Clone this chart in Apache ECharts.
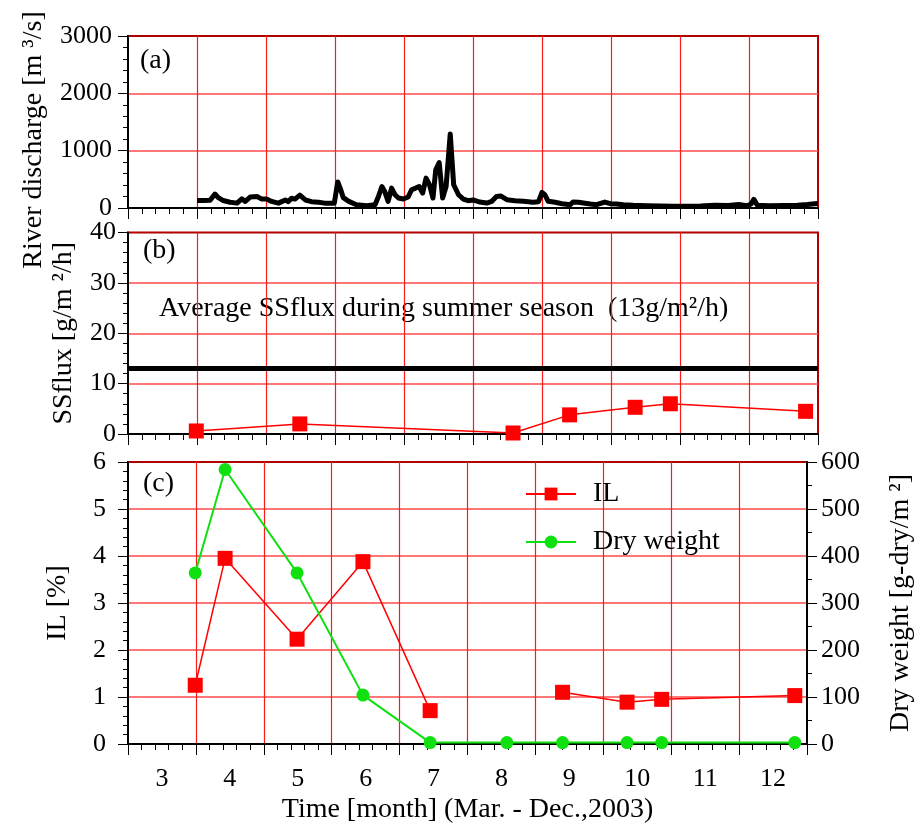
<!DOCTYPE html>
<html>
<head>
<meta charset="utf-8">
<script src="https://cdn.jsdelivr.net/npm/echarts@6/dist/echarts.min.js"></script>
<style>
  html, body { margin: 0; padding: 0; background: #fff; }
  #main { width: 923px; height: 825px; }
</style>
</head>
<body>
<div id="main"></div>
<script>
// month axis: 3.0 = start of March ... 13.0 = end of December
var monthTicks = [3, 4, 5, 6, 7, 8, 9, 10, 11, 12];

// (a) river discharge [m3/s]
var dischargeMonth = [4.00, 4.09, 4.19, 4.26, 4.31, 4.38, 4.48, 4.58, 4.65, 4.70, 4.77, 4.87, 4.94, 5.01, 5.08, 5.18,
  5.28, 5.32, 5.37, 5.42, 5.49, 5.57, 5.66, 5.76, 5.85, 5.95, 5.99, 6.04, 6.08, 6.12, 6.20, 6.31, 6.46, 6.58,
  6.63, 6.68, 6.72, 6.77, 6.82, 6.87, 6.92, 6.99, 7.06, 7.11, 7.17, 7.22, 7.27, 7.32, 7.37, 7.42, 7.46, 7.51,
  7.56, 7.61, 7.67, 7.72, 7.79, 7.86, 7.93, 8.00, 8.10, 8.20, 8.27, 8.34, 8.40, 8.49, 8.61, 8.73, 8.87, 8.95,
  9.00, 9.04, 9.09, 9.19, 9.29, 9.41, 9.45, 9.53, 9.60, 9.70, 9.79, 9.91, 9.99, 10.08, 10.18, 10.32, 10.52,
  10.71, 10.90, 11.10, 11.30, 11.50, 11.70, 11.85, 11.97, 12.03, 12.07, 12.12, 12.30, 12.50, 12.70, 12.85,
  12.95, 13.00];
var dischargeValue = [132, 130, 135, 243, 180, 130, 100, 85, 160, 115, 190, 200, 155, 155, 115, 85,
  140, 110, 170, 155, 225, 140, 110, 100, 85, 85, 85, 455, 330, 180, 115, 57, 40, 57,
  202, 375, 289, 115, 347, 231, 174, 156, 191, 318, 347, 375, 260, 521, 405, 174, 666, 793,
  174, 375, 1291, 405, 231, 156, 127, 140, 104, 87, 115, 202, 210, 145, 128, 116, 99, 110,
  272, 232, 116, 99, 75, 58, 104, 99, 87, 70, 58, 104, 75, 70, 58, 46, 40,
  35, 30, 30, 35, 50, 45, 60, 40, 70, 150, 50, 40, 45, 50, 60,
  75, 80];

// (b) SS flux [g/m2/h]
var fluxMonth = [3.99, 5.49, 8.58, 9.40, 10.35, 10.86, 12.82];
var fluxValue = [0.6, 2.0, 0.2, 3.8, 5.3, 6.0, 4.5];
var summerFluxAvg = 13;

// (c) IL [%] and dry weight [g-dry/m2]
var sampleMonth = [3.99, 4.43, 5.49, 6.46, 7.45, 8.58, 9.40, 10.35, 10.86, 12.82];
var ilValue = [1.25, 3.95, 2.23, 3.88, 0.71, null, 1.10, 0.89, 0.95, 1.03];
var dryWeight = [364, 584, 364, 104, 3, 3, 3, 3, 3, 3];

var FONT = 'Liberation Serif';
var RED = '#ff0000';
var GREEN = '#10e010';

function pairs(xs, ys) {
  return xs.map(function (x, i) { return [x, ys[i]]; });
}

function monthAxis(idx, showLabel) {
  return {
    type: 'value', gridIndex: idx, min: 3, max: 13, interval: 1,
    name: showLabel ? 'Time [month] (Mar. - Dec.,2003)' : '',
    nameLocation: 'middle', nameGap: 52,
    nameTextStyle: {fontFamily: FONT, fontSize: 28, color: '#000'},
    axisLine: {onZero: false, lineStyle: {color: '#000', width: 2}},
    axisTick: {length: 11, lineStyle: {color: '#000', width: 1}},
    minorTick: {show: true, splitNumber: 5, length: 6, lineStyle: {color: '#000', width: 1}},
    splitLine: {show: true, showMinLine: false, showMaxLine: false,
      lineStyle: {color: '#ff1a1a', width: 1.2}},
    axisLabel: showLabel ? {
      customValues: monthTicks.map(function (m) { return m + 0.5; }),
      formatter: function (v) { return String(Math.floor(v)); },
      margin: 22, fontFamily: FONT, fontSize: 26, color: '#000'
    } : {show: false}
  };
}

function valueAxis(idx, max, step, minorSplit, name, gap, margin, side, namePad) {
  return {
    type: 'value', gridIndex: idx, min: 0, max: max, interval: step,
    position: side,
    name: name, nameLocation: 'middle', nameGap: gap, nameRotate: 90,
    nameTextStyle: {fontFamily: FONT, fontSize: 28, color: '#000', padding: namePad || 0},
    axisLine: {show: true, onZero: false, lineStyle: {color: '#000', width: 2}},
    axisTick: {show: true, length: 10, lineStyle: {color: '#000', width: 1}},
    minorTick: {show: true, splitNumber: minorSplit, length: 5, lineStyle: {color: '#000', width: 1}},
    splitLine: {show: side === 'left', showMinLine: false, showMaxLine: false,
      lineStyle: {color: '#ff4a4a', width: 1.5}},
    axisLabel: {margin: margin, fontFamily: FONT, fontSize: 26, color: '#000',
      formatter: function (v) { return String(v); }}
  };
}

var gridBase = {left: 128, width: 690, show: true, borderColor: '#b00000', borderWidth: 2, backgroundColor: 'transparent'};

var option = {
  animation: false,
  backgroundColor: '#fff',
  textStyle: {fontFamily: FONT},
  grid: [
    Object.assign({top: 36, height: 172}, gridBase),
    Object.assign({top: 232.5, height: 201.5}, gridBase),
    Object.assign({top: 462, height: 287}, gridBase)
  ],
  xAxis: [monthAxis(0, false), monthAxis(1, false), monthAxis(2, true)],
  yAxis: [
    valueAxis(0, 3000, 1000, 5, 'River discharge [m \u00b3/s]', 80, 16, 'left', [0, 36, 0, 0]),
    valueAxis(1, 40, 10, 5, 'SSflux [g/m \u00b2/h]', 50, 12, 'left'),
    valueAxis(2, 6, 1, 5, 'IL [%]', 56, 22, 'left'),
    valueAxis(2, 600, 100, 2, 'Dry weight [g-dry/m \u00b2]', 80, 14, 'right')
  ],
  legend: {
    data: ['IL', 'Dry weight'],
    left: 520, top: 475, orient: 'vertical',
    itemWidth: 50, itemHeight: 16, itemGap: 20,
    textStyle: {fontFamily: FONT, fontSize: 28, color: '#000', padding: [0, 0, 0, 12]}
  },
  graphic: [
    {type: 'text', left: 140, top: 47, style: {text: '(a)', font: '28px "Liberation Serif"', fill: '#000'}},
    {type: 'text', left: 143, top: 237, style: {text: '(b)', font: '28px "Liberation Serif"', fill: '#000'}},
    {type: 'text', left: 143, top: 470, style: {text: '(c)', font: '28px "Liberation Serif"', fill: '#000'}},
    {type: 'text', left: 159, top: 295,
      style: {text: 'Average SSflux during summer season  (13g/m\u00b2/h)', font: '28px "Liberation Serif"', fill: '#000'}}
  ],
  series: [
    {
      type: 'line', xAxisIndex: 0, yAxisIndex: 0,
      data: pairs(dischargeMonth, dischargeValue),
      showSymbol: false, symbol: 'none',
      lineStyle: {color: '#000', width: 5, join: 'round'}
    },
    {
      type: 'line', xAxisIndex: 1, yAxisIndex: 1,
      data: pairs(fluxMonth, fluxValue),
      symbol: 'rect', symbolSize: 15,
      itemStyle: {color: RED}, lineStyle: {color: RED, width: 1.5},
      markLine: {
        silent: true, symbol: 'none', label: {show: false},
        lineStyle: {color: '#000', width: 5, type: 'solid'},
        data: [{yAxis: summerFluxAvg}]
      }
    },
    {
      name: 'IL', type: 'line', xAxisIndex: 2, yAxisIndex: 2,
      data: pairs(sampleMonth, ilValue), connectNulls: false,
      symbol: 'rect', symbolSize: 15,
      itemStyle: {color: RED}, lineStyle: {color: RED, width: 1.5}
    },
    {
      name: 'Dry weight', type: 'line', xAxisIndex: 2, yAxisIndex: 3,
      data: pairs(sampleMonth, dryWeight),
      symbol: 'circle', symbolSize: 13,
      itemStyle: {color: GREEN}, lineStyle: {color: GREEN, width: 2}
    }
  ]
};

var chart = echarts.init(document.getElementById('main'));
chart.setOption(option);
</script>
</body>
</html>
